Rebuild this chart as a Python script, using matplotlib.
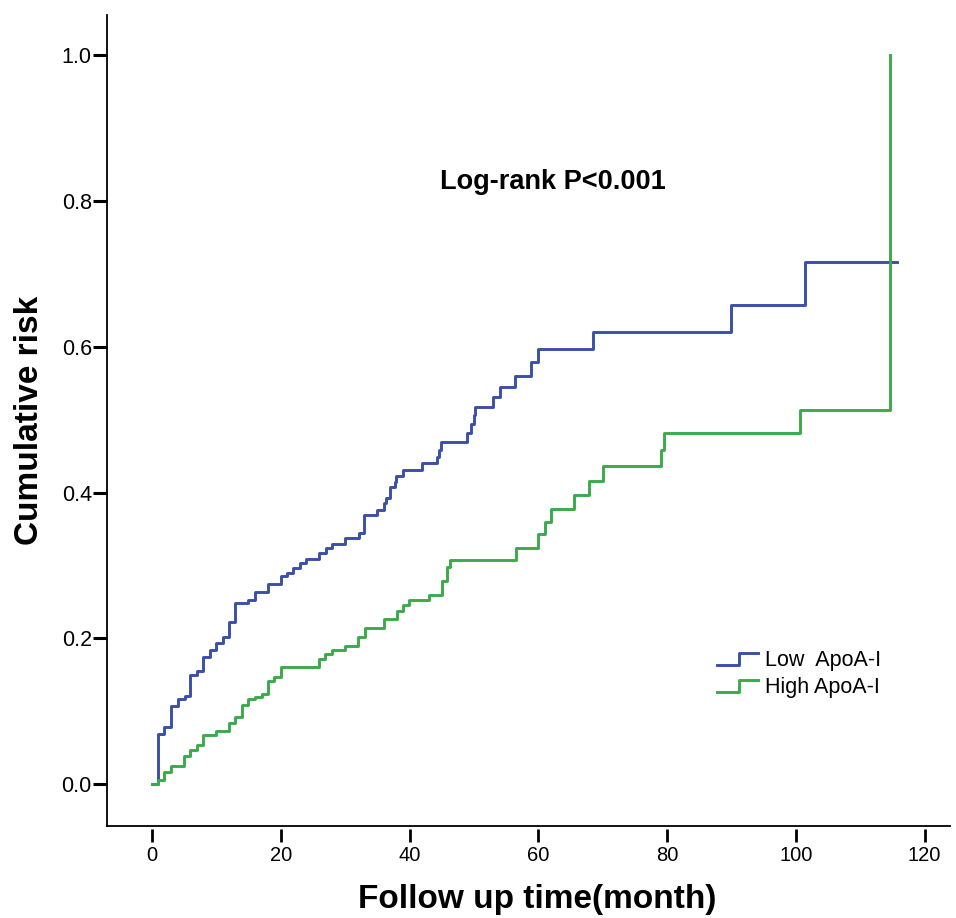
import matplotlib
matplotlib.use("Agg")
import matplotlib.pyplot as plt
from matplotlib.legend_handler import HandlerBase
from matplotlib.lines import Line2D

plt.rcParams['font.family'] = ['Liberation Sans', 'DejaVu Sans']

# cumulative risk (time in months)
low_t = [0, 0.98, 1.9, 2.95, 4.0, 5.03, 5.96, 6.95, 7.98, 8.97, 9.95, 10.98,
         11.97, 12.95, 14.97, 16.0, 17.98, 20.05, 20.9, 21.9, 23.0, 23.9,
         25.96, 27.0, 27.9, 29.9, 32.2, 32.9, 34.9, 35.96, 36.4, 37.0, 37.7,
         37.9, 39.0, 42.0, 44.2, 44.6, 44.9, 48.9, 49.6, 49.96, 50.2, 52.9,
         54.0, 56.3, 58.9, 59.95, 68.45, 89.95, 101.4, 115.7]
low_r = [0, 0.068, 0.078, 0.107, 0.116, 0.121, 0.150, 0.155, 0.174, 0.184,
         0.193, 0.202, 0.223, 0.248, 0.253, 0.263, 0.274, 0.285, 0.290, 0.297,
         0.303, 0.309, 0.317, 0.324, 0.330, 0.338, 0.345, 0.369, 0.376, 0.385,
         0.392, 0.407, 0.415, 0.423, 0.431, 0.440, 0.449, 0.459, 0.470, 0.482,
         0.494, 0.506, 0.518, 0.531, 0.545, 0.560, 0.579, 0.597, 0.620, 0.658,
         0.716, 0.716]

high_t = [0, 0.98, 1.9, 2.95, 4.97, 5.96, 6.95, 7.98, 9.95, 11.97, 12.95,
          13.97, 14.97, 16.0, 17.0, 18.0, 18.95, 20.0, 26.0, 26.9, 27.9, 29.9,
          32.0, 33.0, 35.96, 38.0, 39.0, 39.95, 42.96, 45.0, 45.8, 46.3, 56.6,
          59.9, 61.1, 61.9, 65.6, 67.9, 70.0, 79.1, 79.5, 100.6, 114.6]
high_r = [0, 0.005, 0.016, 0.025, 0.038, 0.046, 0.054, 0.067, 0.073, 0.084,
          0.092, 0.108, 0.116, 0.120, 0.124, 0.142, 0.147, 0.161, 0.172, 0.178,
          0.184, 0.190, 0.202, 0.214, 0.226, 0.238, 0.245, 0.252, 0.260, 0.278,
          0.298, 0.308, 0.324, 0.343, 0.360, 0.378, 0.397, 0.416, 0.436, 0.459,
          0.482, 0.514, 1.0]

x_ticks = [0, 20, 40, 60, 80, 100, 120]
y_ticks = [0.0, 0.2, 0.4, 0.6, 0.8, 1.0]

BLUE = '#3a4fa8'
GREEN = '#3aab4a'


class StepHandler(HandlerBase):
    # legend key drawn as a small step, like SPSS does
    def create_artists(self, legend, orig_handle, xdescent, ydescent,
                       width, height, fontsize, trans):
        x0 = -xdescent
        y0 = -ydescent
        xs = [x0, x0 + 0.55 * width, x0 + 0.55 * width, x0 + width]
        ys = [y0 + 0.05 * height, y0 + 0.05 * height,
              y0 + 0.85 * height, y0 + 0.85 * height]
        line = Line2D(xs, ys, color=orig_handle.get_color(),
                      lw=orig_handle.get_linewidth(), transform=trans)
        return [line]


fig = plt.figure(figsize=(9.56, 9.18), dpi=100)
ax = fig.add_axes([0.112, 0.100, 0.882, 0.884])

l1, = ax.step(low_t, low_r, where='post', color=BLUE, lw=2.1)
l2, = ax.step(high_t, high_r, where='post', color=GREEN, lw=2.1)

ax.set_xlim(-7, 124)
ax.set_ylim(-0.058, 1.056)

for s in ['top', 'right']:
    ax.spines[s].set_visible(False)
ax.spines['left'].set_linewidth(1.3)
ax.spines['bottom'].set_linewidth(1.3)

ax.set_yticks(y_ticks)
ax.set_yticklabels(['%.1f' % v for v in y_ticks])
ax.tick_params(axis='y', direction='out', length=10, width=2.2, pad=1,
               labelsize=15.5)
ax.tick_params(axis='x', bottom=False, labelbottom=False)

# x ticks sit just under the axis line, detached from it
sec = ax.secondary_xaxis(-0.003)
sec.spines['bottom'].set_visible(False)
sec.set_xticks(x_ticks)
sec.set_xticklabels([str(v) for v in x_ticks])
sec.tick_params(direction='out', length=9.5, width=2.0, pad=3, labelsize=14.5)
sec.set_xlabel('Follow up time(month)', fontsize=24, fontweight='bold',
               labelpad=14)
sec.xaxis.label.set_x(0.51)

ax.set_ylabel('Cumulative risk', fontsize=24, fontweight='bold', labelpad=12)

ax.text(62.2, 0.826, 'Log-rank P<0.001', fontsize=19.5, fontweight='bold',
        ha='center', va='center')

ax.legend([l1, l2], ['Low  ApoA-I', 'High ApoA-I'],
          handler_map={Line2D: StepHandler()},
          loc='center left', bbox_to_anchor=(0.750, 0.266),
          bbox_transform=fig.transFigure, frameon=False, fontsize=15.5,
          handlelength=1.9, handletextpad=0.35, borderpad=0,
          borderaxespad=0, labelspacing=0.3)

fig.savefig('out.png', dpi=100)
